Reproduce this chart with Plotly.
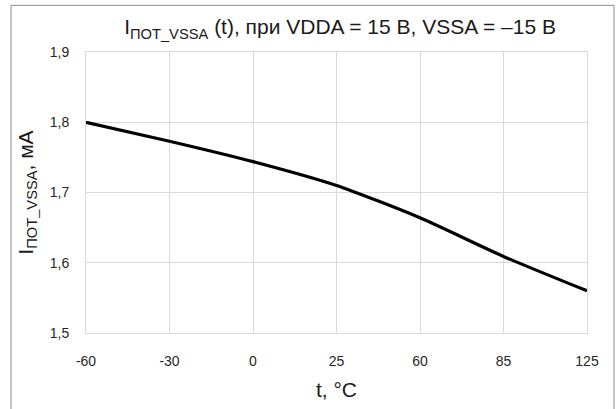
import plotly.graph_objects as go

temps = ["-60", "-30", "0", "25", "60", "85", "125"]
current_ma = [1.800, 1.773, 1.744, 1.710, 1.664, 1.609, 1.560]
y_ticks = [1.5, 1.6, 1.7, 1.8, 1.9]

W, H = 616, 409
L, R, T, B = 86, 29, 52, 74
pw = W - L - R
ph = H - T - B

def px_x(p):
    return (p - L) / pw

def px_y(p):
    return (H - B - p) / ph

fig = go.Figure()
fig.add_trace(go.Scatter(
    x=temps, y=current_ma, mode="lines",
    line=dict(color="black", width=3.2, shape="spline", smoothing=0.6),
    showlegend=False,
))

font_main = "Liberation Sans, Arial, sans-serif"

fig.update_layout(
    width=W, height=H,
    margin=dict(l=L, r=R, t=T, b=B),
    paper_bgcolor="white", plot_bgcolor="white",
    separators=", ",
    title=dict(
        text="I<sub>ПОТ_VSSA</sub> (t), при VDDA = 15 В, VSSA = –15 В",
        x=0.552, xanchor="center", y=1 - 27 / H, yanchor="middle",
        font=dict(family=font_main, size=21, color="#1a1a1a"),
    ),
    xaxis=dict(
        type="category", range=[0, 6],
        showgrid=True, gridcolor="#d9d9d9", gridwidth=1,
        showline=True, linecolor="#d9d9d9", linewidth=1, mirror=True,
        ticks="", ticklabelstandoff=15,
        tickfont=dict(family=font_main, size=14, color="#262626"),
        title=dict(text="t, °C", font=dict(family=font_main, size=21, color="#1a1a1a"), standoff=14),
        zeroline=False,
    ),
    yaxis=dict(
        range=[1.5, 1.9], tickvals=y_ticks, tickformat=".1f",
        showgrid=True, gridcolor="#d9d9d9", gridwidth=1,
        showline=True, linecolor="#d9d9d9", linewidth=1, mirror=True,
        ticks="", ticklabelstandoff=13,
        tickfont=dict(family=font_main, size=14, color="#262626"),
        title=dict(text="I<sub>ПОТ_VSSA</sub>, мА", font=dict(family=font_main, size=21, color="#1a1a1a"), standoff=10),
        zeroline=False,
    ),
    shapes=[dict(
        type="rect", xref="paper", yref="paper",
        x0=px_x(11), x1=px_x(614), y0=px_y(415), y1=px_y(5),
        line=dict(color="#8c8c8c", width=1), fillcolor="rgba(0,0,0,0)", layer="below",
    )],
)

fig.write_html("out.html")
